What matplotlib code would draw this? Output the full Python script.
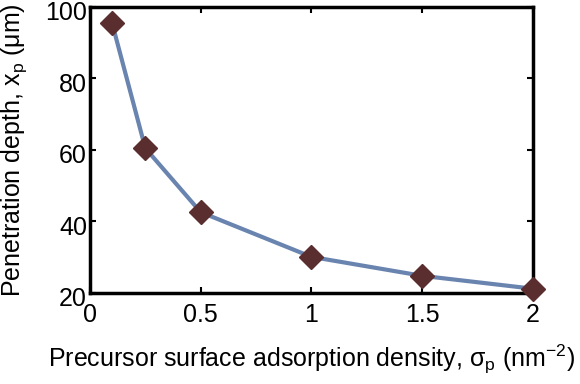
import matplotlib
matplotlib.use("Agg")
import matplotlib.pyplot as plt
import matplotlib.transforms as mtransforms

# data
sigma_p = [0.1, 0.25, 0.5, 1.0, 1.5, 2.0]
depth = [95.5, 60.5, 42.6, 30.1, 24.8, 21.2]
xticks = [0, 0.5, 1, 1.5, 2]
yticks = [20, 40, 60, 80, 100]

plt.rcParams['font.family'] = ['Liberation Sans', 'DejaVu Sans']
plt.rcParams['mathtext.fontset'] = 'custom'
plt.rcParams['mathtext.rm'] = 'Liberation Sans'

fig = plt.figure(figsize=(5.8, 3.84), dpi=100)
ax = fig.add_axes([0.155, 0.237, 0.764, 0.745])

ax.plot(sigma_p, depth, color='#6a84b0', lw=3, zorder=2)
ax.plot(sigma_p, depth, ls='none', marker='D', ms=12, color='#5a2e2e', zorder=3,
        clip_on=False)

ax.set_xlim(0, 2)
ax.set_ylim(20, 100)
ax.set_xticks(xticks)
ax.set_xticklabels(['0', '0.5', '1', '1.5', '2'])
ax.set_yticks(yticks)

for s in ax.spines.values():
    s.set_linewidth(2.5)
ax.tick_params(direction='in', length=4, width=1.5, top=True, right=True,
               labelsize=18)
ax.tick_params(axis='x', pad=7)
ax.tick_params(axis='y', pad=2)

# nudge y tick labels down a little, like the reference
shift = mtransforms.ScaledTranslation(0, -4/100, fig.dpi_scale_trans)
for lbl in ax.get_yticklabels():
    lbl.set_transform(lbl.get_transform() + shift)

ax.set_xlabel(r'Precursor surface adsorption density, σ$_\mathregular{p}$ (nm$^{\mathregular{-2}}$)',
              fontsize=18, labelpad=12)
ax.set_ylabel(r'Penetration depth, x$_\mathregular{p}$ (μm)', fontsize=18, labelpad=12)

fig.savefig('out.png', dpi=100)
